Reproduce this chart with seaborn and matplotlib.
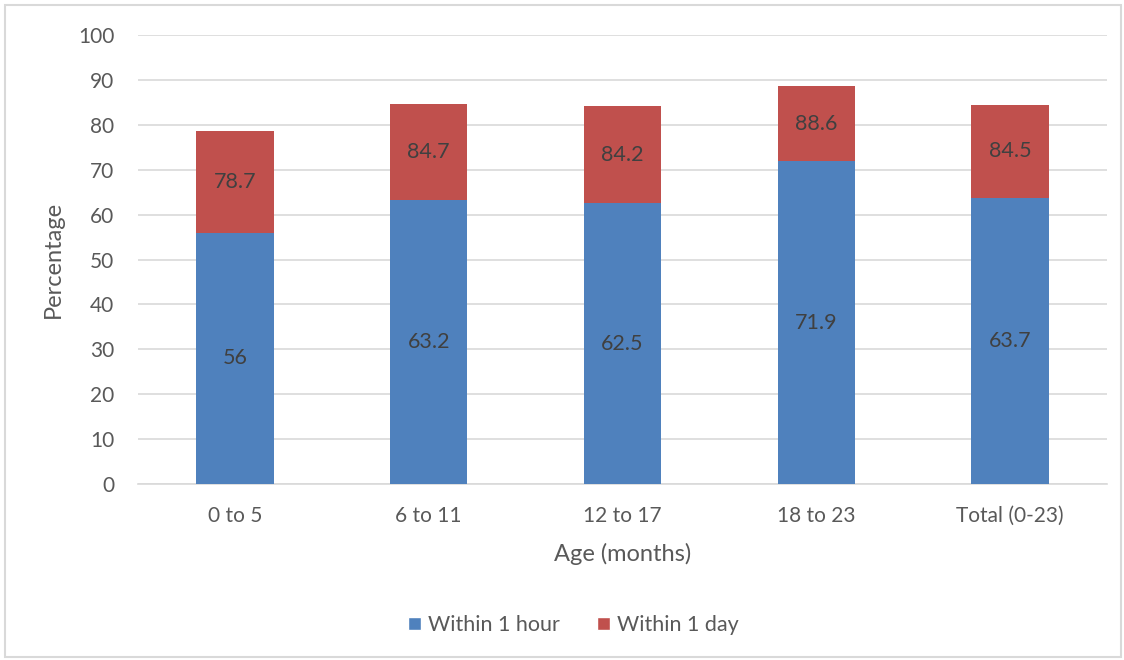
import pandas as pd
import matplotlib
matplotlib.use('Agg')
from matplotlib import pyplot as plt
from matplotlib.patches import Rectangle, Patch
import seaborn as sns

ages = ['0 to 5', '6 to 11', '12 to 17', '18 to 23', 'Total (0-23)']
within_hour = [56, 63.2, 62.5, 71.9, 63.7]
within_day = [78.7, 84.7, 84.2, 88.6, 84.5]

blue = '#4F81BD'
red = '#C0504D'
text_grey = '#595959'
grid_grey = '#D9D9D9'

sns.set_style('white')
plt.rcParams['font.family'] = ['Lato', 'DejaVu Sans']

df = pd.DataFrame({'age': ages, 'hour': within_hour, 'day': within_day})

fig = plt.figure(figsize=(11.24, 6.6), dpi=100)
ax = fig.add_axes([138 / 1124, 1 - 484 / 660, (1107 - 138) / 1124, (484 - 35) / 660])

# red bar is the cumulative value, blue bar drawn in front of it
sns.barplot(data=df, x='age', y='day', color=red, width=0.4, saturation=1, linewidth=0, ax=ax, zorder=2)
sns.barplot(data=df, x='age', y='hour', color=blue, width=0.4, saturation=1, linewidth=0, ax=ax, zorder=3)

for i, (h, d) in enumerate(zip(within_hour, within_day)):
    ax.text(i, h / 2, f'{h:g}', ha='center', va='center', fontsize=15.5, color='#404040', zorder=4)
    ax.text(i, (h + d) / 2, f'{d:g}', ha='center', va='center', fontsize=15.5, color='#404040', zorder=4)

ax.set_ylim(0, 100)
ax.set_xlim(-0.5, 4.5)
ax.set_yticks(range(0, 101, 10))
ax.yaxis.grid(True, color=grid_grey, linewidth=1.2, zorder=0)
ax.set_axisbelow(True)
for side in ['top', 'right', 'left']:
    ax.spines[side].set_visible(False)
ax.spines['bottom'].set_color(grid_grey)
ax.spines['bottom'].set_linewidth(1.2)
ax.tick_params(axis='both', length=0, labelsize=15, colors=text_grey)
ax.tick_params(axis='x', pad=16)
ax.tick_params(axis='y', pad=17)
ax.set_xlabel('Age (months)', fontsize=17, color=text_grey, labelpad=12)
ax.set_ylabel('Percentage', fontsize=17, color=text_grey, labelpad=10)

handles = [Patch(facecolor=blue, label='Within 1 hour'), Patch(facecolor=red, label='Within 1 day')]
fig.legend(handles=handles, loc='center', bbox_to_anchor=(0.51, 1 - 625 / 660), ncol=2, frameon=False,
           fontsize=15.5, labelcolor=text_grey, handlelength=0.6, handleheight=0.6, handletextpad=0.35,
           columnspacing=1.7)

fig.patches.append(Rectangle((5 / 1124, 3 / 660), 1116 / 1124, 652 / 660, transform=fig.transFigure,
                             fill=False, edgecolor=grid_grey, linewidth=1.5))

fig.savefig('out.png', dpi=100)
